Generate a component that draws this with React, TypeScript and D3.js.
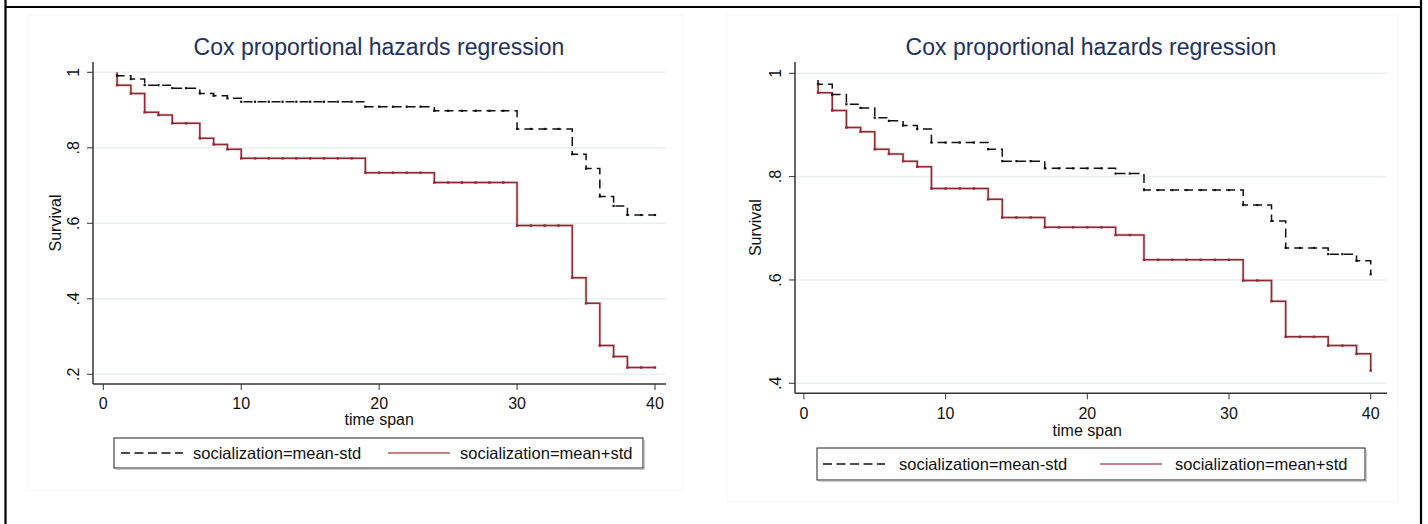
import React from "react";
import * as d3 from "d3";

// ---------- data ----------
const times = [1,2,3,4,5,6,7,8,9,10,11,12,13,14,15,16,17,18,19,20,21,22,23,24,25,26,27,28,29,30,31,32,33,34,35,36,37,38,39,40];
const xTicks = [0, 10, 20, 30, 40];
const leftYTicks = [0.2, 0.4, 0.6, 0.8, 1];
const rightYTicks = [0.4, 0.6, 0.8, 1];
const yTickLabels: Record<string, string> = { "0.2": ".2", "0.4": ".4", "0.6": ".6", "0.8": ".8", "1": "1" };
const seriesNames = ["socialization=mean-std", "socialization=mean+std"];
const titleText = "Cox proportional hazards regression";
const xTitle = "time span";
const yTitle = "Survival";

// left panel survival at t = 1..40
const leftStartLow = 0.995;
const leftLow = [0.991,0.982,0.966,0.966,0.958,0.958,0.944,0.938,0.931,0.922,
  0.922,0.922,0.922,0.922,0.922,0.922,0.922,0.922,0.909,0.909,
  0.909,0.909,0.909,0.898,0.898,0.898,0.898,0.898,0.898,0.850,
  0.850,0.850,0.850,0.783,0.745,0.671,0.646,0.622,0.622,0.622];
const leftStartHigh = 1.0;
const leftHigh = [0.966,0.944,0.894,0.887,0.865,0.865,0.825,0.809,0.796,0.772,
  0.772,0.772,0.772,0.772,0.772,0.772,0.772,0.772,0.734,0.734,
  0.734,0.734,0.734,0.708,0.708,0.708,0.708,0.708,0.708,0.594,
  0.594,0.594,0.594,0.456,0.388,0.276,0.247,0.218,0.218,0.218];

// right panel survival at t = 1..40
const rightStartLow = 0.987;
const rightLow = [0.979,0.959,0.940,0.933,0.914,0.908,0.899,0.892,0.866,0.866,
  0.866,0.866,0.853,0.830,0.830,0.830,0.816,0.816,0.816,0.816,
  0.816,0.806,0.806,0.774,0.774,0.774,0.774,0.774,0.774,0.774,
  0.745,0.745,0.714,0.662,0.662,0.662,0.650,0.650,0.637,0.611];
const rightStartHigh = 0.981;
const rightHigh = [0.9625,0.928,0.895,0.887,0.853,0.844,0.830,0.819,0.777,0.777,
  0.777,0.777,0.756,0.721,0.721,0.721,0.702,0.702,0.702,0.702,
  0.702,0.687,0.687,0.639,0.639,0.639,0.639,0.639,0.639,0.639,
  0.599,0.599,0.559,0.490,0.490,0.490,0.473,0.473,0.457,0.4245];

// ---------- styles ----------
const FONT = "'Liberation Sans', Arial, Helvetica, sans-serif";
const TITLE_COLOR = "#22315e";
const RED = "#8e2a35";
const AXIS = "#333333";
const GRID = "#e9eff2";

type PanelCfg = {
  frame: [number, number, number, number];
  xRange: [number, number];
  yDomain: [number, number];
  yRange: [number, number];
  axisX: number;
  axisTop: number;
  axisBottom: number;
  plotRight: number;
  yTicks: number[];
  yLabelX: number;
  yTitleX: number;
  xLabelY: number;
  xTitleY: number;
  titleX: number;
  titleY: number;
  legend: { x0: number; x1: number; y0: number; y1: number; s1: number; t1: number; s2: number; t2: number };
  low: number[];
  lowStart: number;
  high: number[];
  highStart: number;
};

function Panel({ c }: { c: PanelCfg }) {
  const x = d3.scaleLinear().domain([0, 40]).range(c.xRange);
  const y = d3.scaleLinear().domain(c.yDomain).range(c.yRange);
  const line = d3
    .line<[number, number]>()
    .x((d) => x(d[0]))
    .y((d) => y(d[1]))
    .curve(d3.curveStepAfter);
  const pts = (start: number, vals: number[]): [number, number][] => [
    [times[0], start],
    ...vals.map((v, i) => [times[i], v] as [number, number]),
  ];
  const lowPath = line(pts(c.lowStart, c.low)) || "";
  const highPath = line(pts(c.highStart, c.high)) || "";
  const [fx0, fy0, fx1, fy1] = c.frame;
  const L = c.legend;
  const ly = (L.y0 + L.y1) / 2;
  const xMid = (c.xRange[0] + c.xRange[1]) / 2;
  return (
    <g>
      <rect x={fx0} y={fy0} width={fx1 - fx0} height={fy1 - fy0} fill="#ffffff" stroke="#f3f5f6" strokeWidth={1} />
      <text x={c.titleX} y={c.titleY} textAnchor="middle" fontFamily={FONT} fontSize={23} fill={TITLE_COLOR}>
        {titleText}
      </text>
      {c.yTicks.map((t) => (
        <g key={"g" + t}>
          <line x1={c.axisX} x2={c.plotRight} y1={y(t)} y2={y(t)} stroke={GRID} strokeWidth={1.6} />
          <line x1={c.axisX - 6} x2={c.axisX} y1={y(t)} y2={y(t)} stroke={AXIS} strokeWidth={1} />
          <text
            transform={`translate(${c.yLabelX},${y(t)}) rotate(-90)`}
            textAnchor="middle"
            fontFamily={FONT}
            fontSize={16}
            fill="#111"
          >
            {yTickLabels[String(t)]}
          </text>
        </g>
      ))}
      <line x1={c.axisX} x2={c.axisX} y1={c.axisTop} y2={c.axisBottom} stroke={AXIS} strokeWidth={1.5} />
      <line x1={c.axisX} x2={c.plotRight} y1={c.axisBottom} y2={c.axisBottom} stroke={AXIS} strokeWidth={1.5} />
      {xTicks.map((t) => (
        <g key={"x" + t}>
          <line x1={x(t)} x2={x(t)} y1={c.axisBottom} y2={c.axisBottom + 6} stroke={AXIS} strokeWidth={1} />
          <text x={x(t)} y={c.xLabelY} textAnchor="middle" fontFamily={FONT} fontSize={16} fill="#111">
            {t}
          </text>
        </g>
      ))}
      <text x={xMid} y={c.xTitleY} textAnchor="middle" fontFamily={FONT} fontSize={16} fill="#111">
        {xTitle}
      </text>
      <text
        transform={`translate(${c.yTitleX},${(c.axisTop + c.axisBottom) / 2}) rotate(-90)`}
        textAnchor="middle"
        fontFamily={FONT}
        fontSize={16}
        fill="#111"
      >
        {yTitle}
      </text>
      {/* curves */}
      <path d={highPath} fill="none" stroke="#d9a7ad" strokeWidth={3} strokeOpacity={0.5} />
      <path d={highPath} fill="none" stroke={RED} strokeWidth={1.5} />
      {c.high.map((v, i) => (
        <rect key={"hm" + i} x={x(times[i]) - 1.2} y={y(v) - 1.2} width={2.4} height={2.4} fill={RED} />
      ))}
      <path d={lowPath} fill="none" stroke="#111" strokeWidth={1.5} strokeDasharray="9 5" />
      {c.low.map((v, i) => (
        <rect key={"lm" + i} x={x(times[i]) - 1.1} y={y(v) - 1.1} width={2.2} height={2.2} fill="#111" />
      ))}
      {/* legend */}
      <rect x={L.x0} y={L.y0} width={L.x1 - L.x0} height={L.y1 - L.y0} fill="#fff" stroke="#222" strokeWidth={1} />
      <line x1={L.x0 + 2} x2={L.x1 + 2} y1={L.y1 + 1} y2={L.y1 + 1} stroke="#999" strokeWidth={1} />
      <line x1={L.x1 + 1} x2={L.x1 + 1} y1={L.y0 + 2} y2={L.y1 + 1} stroke="#999" strokeWidth={1} />
      <line x1={L.s1} x2={L.s1 + 62} y1={ly} y2={ly} stroke="#111" strokeWidth={1.5} strokeDasharray="9 4.5" />
      <text x={L.t1} y={ly + 6} fontFamily={FONT} fontSize={16.5} fill="#111">
        {seriesNames[0]}
      </text>
      <line x1={L.s2} x2={L.s2 + 62} y1={ly} y2={ly} stroke="#b05a62" strokeWidth={1.5} />
      <text x={L.t2} y={ly + 6} fontFamily={FONT} fontSize={16.5} fill="#111">
        {seriesNames[1]}
      </text>
    </g>
  );
}

const leftCfg: PanelCfg = {
  frame: [28, 15, 683, 490],
  xRange: [103.3, 655],
  yDomain: [0.2, 1],
  yRange: [374.3, 72.3],
  axisX: 93,
  axisTop: 62,
  axisBottom: 384,
  plotRight: 666,
  yTicks: leftYTicks,
  yLabelX: 79,
  yTitleX: 61,
  xLabelY: 409,
  xTitleY: 425,
  titleX: 379,
  titleY: 55,
  legend: { x0: 114, x1: 643, y0: 438, y1: 468, s1: 121, t1: 193, s2: 388, t2: 460 },
  low: leftLow,
  lowStart: leftStartLow,
  high: leftHigh,
  highStart: leftStartHigh,
};

const rightCfg: PanelCfg = {
  frame: [727, 15, 1398, 502],
  xRange: [803.9, 1370.7],
  yDomain: [0.4, 1],
  yRange: [383.3, 73.3],
  axisX: 795,
  axisTop: 62,
  axisBottom: 393.3,
  plotRight: 1387,
  yTicks: rightYTicks,
  yLabelX: 781,
  yTitleX: 761,
  xLabelY: 419,
  xTitleY: 436,
  titleX: 1091,
  titleY: 55,
  legend: { x0: 817, x1: 1365, y0: 448, y1: 480, s1: 823, t1: 899, s2: 1100, t2: 1175 },
  low: rightLow,
  lowStart: rightStartLow,
  high: rightHigh,
  highStart: rightStartHigh,
};

export default function App() {
  return (
    <svg
      width={1428}
      height={524}
      style={{ position: "absolute", left: 0, top: 0, background: "#fff" }}
    >
      <rect x={0} y={0} width={1428} height={524} fill="#fff" />
      <Panel c={leftCfg} />
      <Panel c={rightCfg} />
      {/* outer borders */}
      <line x1={5.5} x2={5.5} y1={0} y2={524} stroke="#000" strokeWidth={2.2} />
      <line x1={1421} x2={1421} y1={0} y2={524} stroke="#000" strokeWidth={2.2} />
      <line x1={5} x2={1422} y1={7} y2={7} stroke="#000" strokeWidth={2.2} />
    </svg>
  );
}
